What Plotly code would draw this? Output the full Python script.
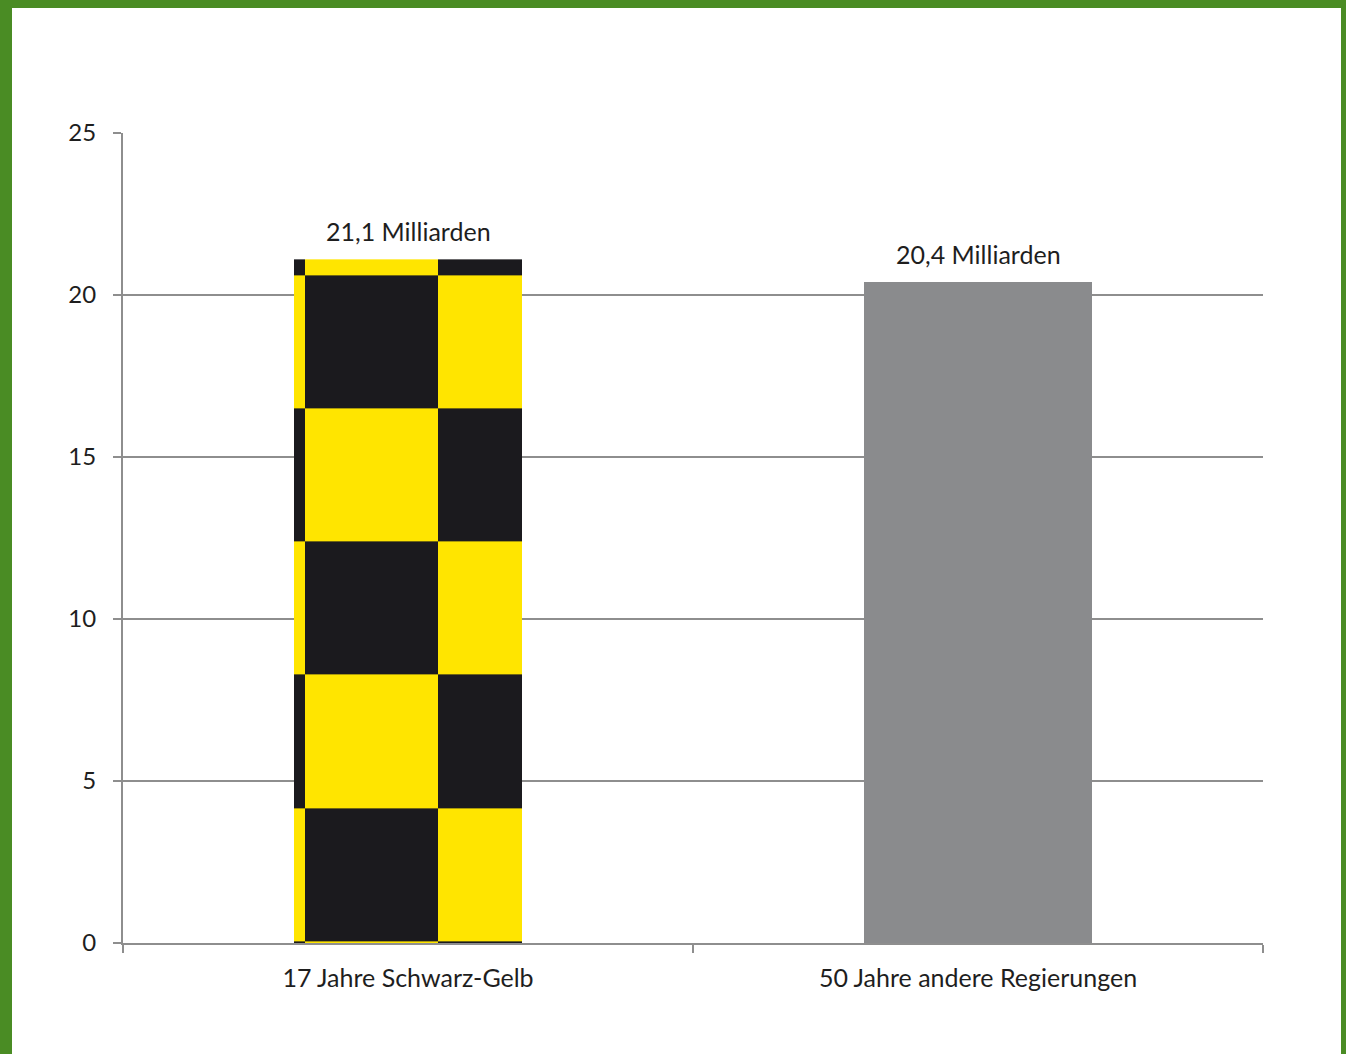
import numpy as np
import plotly.graph_objects as go

# ---- data ----
categories = ["17 Jahre Schwarz-Gelb", "50 Jahre andere Regierungen"]
values = [21.1, 20.4]
value_labels = ["21,1 Milliarden", "20,4 Milliarden"]
y_ticks = [0, 5, 10, 15, 20, 25]

# ---- style ----
YELLOW = "#FFE500"
BLACK = "#1B1A1E"
GREY_BAR = "#8A8B8D"
GRID = "#8E8E8E"
TEXT = "#1E1E1E"
FONT = "Lato"
BAR_WIDTH = 0.4
# checkerboard tile size / origin (pattern style, in axis units)
TILE_X = 0.2333
TILE_Y = 4.11
ORIGIN_X = -0.1807
ORIGIN_Y = 0.06

W, H = 1346, 1054
L, R, T, B = 123, 83, 133, 111
pw, ph = W - L - R, H - T - B

xpos = list(range(len(categories)))

fig = go.Figure()

# checkerboard fill for first bar, derived from the bar's extent
x0, x1 = xpos[0] - BAR_WIDTH / 2, xpos[0] + BAR_WIDTH / 2
k0 = int(np.floor((x0 - ORIGIN_X) / TILE_X))
xe = [x0] + [ORIGIN_X + k * TILE_X for k in range(k0 + 1, k0 + 20)
             if x0 < ORIGIN_X + k * TILE_X < x1] + [x1]
y0, y1 = 0.0, values[0]
ye = [y0] + [ORIGIN_Y + k * TILE_Y for k in range(0, 20)
             if y0 < ORIGIN_Y + k * TILE_Y < y1] + [y1]
z = [[1 if (r + c) % 2 == 0 else 0 for c in range(len(xe) - 1)]
     for r in range(len(ye) - 1)]
fig.add_trace(go.Heatmap(x=xe, y=ye, z=z, zmin=0, zmax=1,
                         colorscale=[[0, YELLOW], [0.5, YELLOW],
                                     [0.5, BLACK], [1, BLACK]],
                         showscale=False, hoverinfo="skip"))

# bar outline of first bar (transparent; pattern drawn by heatmap above)
fig.add_trace(go.Bar(x=[xpos[0]], y=[values[0]], width=BAR_WIDTH,
                     marker=dict(color="rgba(0,0,0,0)", line=dict(width=0)),
                     hoverinfo="skip", showlegend=False))
# grey bar
fig.add_trace(go.Bar(x=[xpos[1]], y=[values[1]], width=BAR_WIDTH,
                     marker=dict(color=GREY_BAR, line=dict(width=0)),
                     hoverinfo="skip", showlegend=False))

# value labels
for xi, v, lab in zip(xpos, values, value_labels):
    fig.add_annotation(x=xi, y=v, text=lab, showarrow=False,
                       yanchor="bottom", yshift=11,
                       font=dict(family=FONT, size=25, color=TEXT))

# background: green frame with white panel
def px2x(p):
    return (p - L) / pw

def px2y(p):
    return (H - B - p) / ph

fig.add_shape(type="rect", xref="paper", yref="paper", layer="below",
              x0=px2x(12), x1=px2x(1341), y0=px2y(1060), y1=px2y(8),
              fillcolor="white", line=dict(width=0))

fig.update_layout(
    width=W, height=H,
    margin=dict(l=L, r=R, t=T, b=B, pad=0),
    paper_bgcolor="#4A8C24",
    plot_bgcolor="white",
    showlegend=False,
    bargap=0,
    font=dict(family=FONT, color=TEXT),
    xaxis=dict(
        range=[-0.5, len(categories) - 0.5],
        tickmode="array", tickvals=xpos, ticktext=categories,
        ticks="", showgrid=False, zeroline=False,
        showline=True, linecolor=GRID, linewidth=2,
        tickfont=dict(family=FONT, size=25, color=TEXT),
        ticklabelstandoff=12,
        minor=dict(tick0=-0.5, dtick=1, ticks="outside", ticklen=8,
                   tickwidth=2, tickcolor=GRID, showgrid=False),
        fixedrange=True,
    ),
    yaxis=dict(
        range=[0, 25], tickmode="array", tickvals=y_ticks,
        ticks="outside", ticklen=8, tickwidth=2, tickcolor=GRID,
        showgrid=True, gridcolor=GRID, gridwidth=2,
        zeroline=False, showline=True, linecolor=GRID, linewidth=2,
        tickfont=dict(family=FONT, size=24, color=TEXT),
        ticklabelstandoff=12,
        fixedrange=True,
    ),
)

fig.write_html("out.html", config={"displayModeBar": False},
               post_script="document.body.style.margin='0';")
